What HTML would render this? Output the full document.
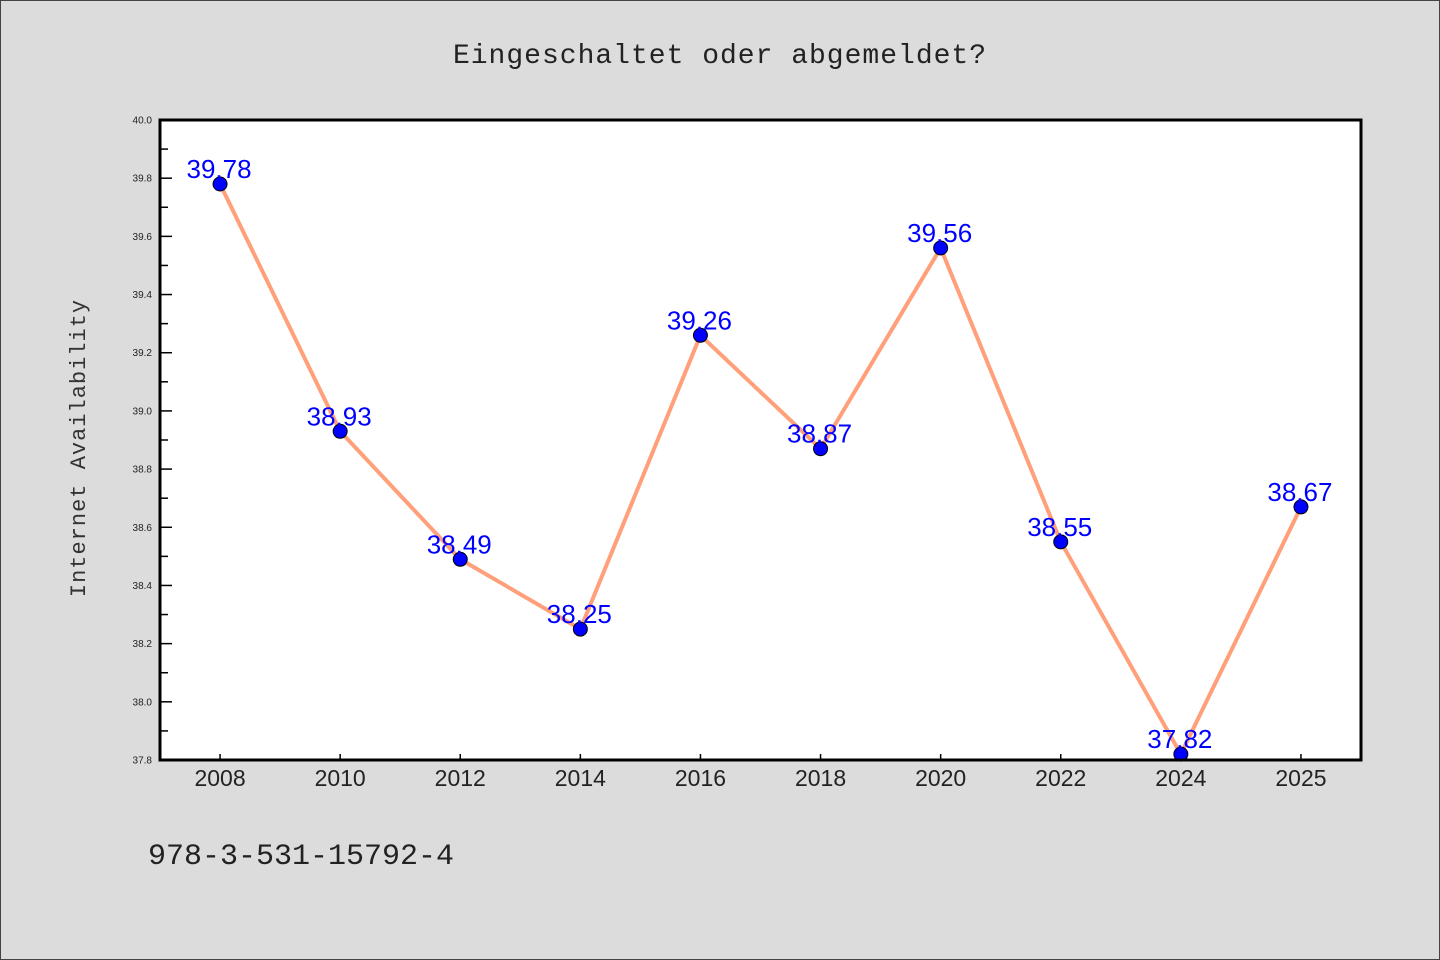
<!DOCTYPE html>
<html><head><meta charset="utf-8"><style>
body{margin:0;background:#dcdcdc;}
svg{display:block;font-family:"Liberation Sans","Noto Sans CJK SC",sans-serif;}
</style></head><body>
<svg width="1440" height="960">
<rect x="0.5" y="0.5" width="1439" height="959" fill="#dcdcdc" stroke="#444"/>
<text x="720" y="63" text-anchor="middle" font-size="28" font-family="Liberation Mono, monospace" fill="#222" letter-spacing="1">Eingeschaltet oder abgemeldet?</text>
<rect x="160" y="120" width="1201" height="640" fill="#fff"/>
<g id="axes"></g>
<g id="series"></g>
<rect x="160" y="120" width="1201" height="640" fill="none" stroke="#000" stroke-width="3"/>
<text transform="translate(85,448) rotate(-90)" text-anchor="middle" font-size="22" font-family="Liberation Mono, monospace" fill="#333" letter-spacing="1">Internet Availability</text>
<text x="148" y="864" font-size="30" font-family="Liberation Mono, monospace" fill="#222">978-3-531-15792-4</text>
</svg>
<script>
const categories=["2008","2010","2012","2014","2016","2018","2020","2022","2024","2025"];
const values=[39.78,38.93,38.49,38.25,39.26,38.87,39.56,38.55,37.82,38.67];
const yTicks=[37.8,38.0,38.2,38.4,38.6,38.8,39.0,39.2,39.4,39.6,39.8,40.0];
const NS="http://www.w3.org/2000/svg";
const L=160,R=1361,T=120,B=760,yMin=37.8,yMax=40.0;
const xs=i=>L+(R-L)/categories.length*(i+0.5);
const ys=v=>B-(v-yMin)/(yMax-yMin)*(B-T);
function mk(tag,at,parent){const e=document.createElementNS(NS,tag);for(const k in at)e.setAttribute(k,at[k]);parent.appendChild(e);return e;}
const ax=document.getElementById('axes'),se=document.getElementById('series');
yTicks.forEach((t,i)=>{
 const y=ys(t);
 const ln=mk('line',{x1:L,x2:L+12,y1:y,y2:y,stroke:'#000','stroke-width':1.5},ax);
 
 
 const tx=mk('text',{x:L-8,y:y+3.5,'text-anchor':'end','font-size':10,fill:'#222'},ax);
 tx.textContent=t.toFixed(1);
 
 
 if(i<yTicks.length-1){const ym=ys(t+0.1);
  const mn=mk('line',{x1:L,x2:L+8,y1:ym,y2:ym,stroke:'#000','stroke-width':1.5},ax);
  
  }
});
categories.forEach((c,i)=>{
 const x=xs(i);
 const tk=mk('line',{x1:x,x2:x,y1:B,y2:B-6,stroke:'#000','stroke-width':1.5},ax);
 
 
 const tx=mk('text',{x:x,y:B+26,'text-anchor':'middle','font-size':23,fill:'#222'},ax);
 tx.textContent=c;
 
 
});
const pl=mk('polyline',{points:values.map((v,i)=>xs(i)+','+ys(v)).join(' '),fill:'none',stroke:'#ffa07a','stroke-width':4,'stroke-linejoin':'round'},se);


values.forEach((v,i)=>{
 const c=mk('circle',{cx:xs(i),cy:ys(v),r:7,fill:'#0000ff',stroke:'#000','stroke-width':1},se);
 
 
});
values.forEach((v,i)=>{
 const t=mk('text',{x:xs(i)-1,y:ys(v)-6,'text-anchor':'middle','font-size':26,fill:'#0000ff'},se);
 t.textContent=v.toFixed(2);
 
 
});
</script>
</body></html>
